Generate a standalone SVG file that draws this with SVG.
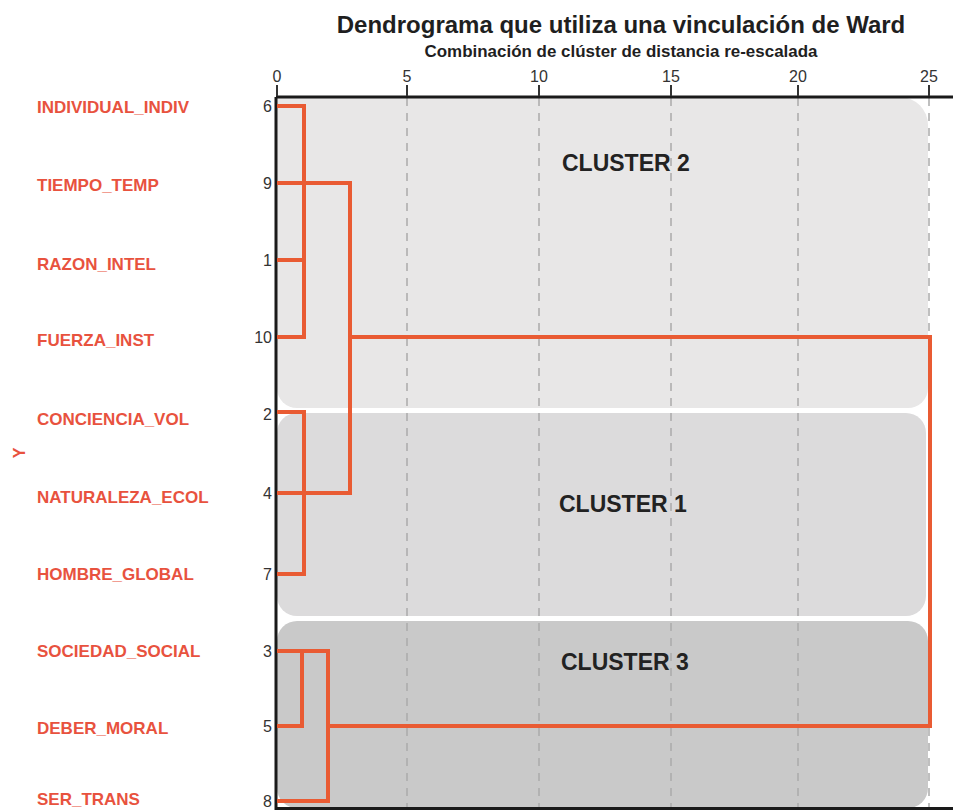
<svg xmlns="http://www.w3.org/2000/svg" width="953" height="810" viewBox="0 0 953 810">
<style>
.title{font-family:"Liberation Sans",Arial,sans-serif;font-weight:bold;fill:#1f1f1f}
.tick{font-family:"Liberation Sans",Arial,sans-serif;font-size:16px;fill:#333;text-anchor:middle}
.num{font-family:"Liberation Sans",Arial,sans-serif;font-size:16px;fill:#333;text-anchor:end}
.name{font-family:"Liberation Sans",Arial,sans-serif;font-size:17px;font-weight:bold;fill:#e8523e}
.clab{font-family:"Liberation Sans",Arial,sans-serif;font-size:23px;font-weight:bold;fill:#222}
.grid{stroke:#ababab;stroke-width:1.5;stroke-dasharray:8 7;fill:none}
.tk{stroke:#333;stroke-width:2}
.link{fill:none;stroke:#e95b33;stroke-width:4;stroke-linejoin:miter}
.axis{stroke:#1a1a1a;stroke-width:3;fill:none}
</style>
<rect width="953" height="810" fill="#fff"/>
<text class="title" x="621" y="33" font-size="24" text-anchor="middle">Dendrograma que utiliza una vinculación de Ward</text>
<text class="title" x="621" y="57" font-size="16.5" text-anchor="middle" textLength="393" lengthAdjust="spacingAndGlyphs">Combinación de clúster de distancia re-escalada</text>
<g id="clusters">
<path id="cluster2" d="M277,97 H900 A28,28 0 0 1 928,125 V388 A20,20 0 0 1 908,408 H297 A20,20 0 0 1 277,388 Z" fill="#e8e7e7"/>
<path id="cluster1" d="M297,413 H906 A20,20 0 0 1 926,433 V596 A20,20 0 0 1 906,616 H297 A20,20 0 0 1 277,596 V433 A20,20 0 0 1 297,413 Z" fill="#dcdbdc"/>
<path id="cluster3" d="M297,621 H908 A20,20 0 0 1 928,641 V788 A20,20 0 0 1 908,808 H297 A20,20 0 0 1 277,788 V641 A20,20 0 0 1 297,621 Z" fill="#c9c9c9"/>
</g>
<g id="grid">
<path class="grid" d="M407,98 V808 M539,98 V808 M671,98 V808 M798,98 V808 M929,98 V808"/>
</g>
<g id="axis">
<path class="axis" d="M276,97 H953 M276,97 V810 M276,808.5 H953"/>
<path class="tk" d="M277,85 V96 M407,85 V96 M539,85 V96 M671,85 V96 M798,85 V96 M929,85 V96"/>
<text class="tick" x="277" y="82">0</text>
<text class="tick" x="407" y="82">5</text>
<text class="tick" x="539" y="82">10</text>
<text class="tick" x="671" y="82">15</text>
<text class="tick" x="798" y="82">20</text>
<text class="tick" x="929" y="82">25</text>
</g>
<text x="25" y="453" transform="rotate(-90 25 453)" font-family="Liberation Sans,Arial,sans-serif" font-size="16" font-weight="bold" fill="#e8523e" text-anchor="middle">Y</text>
<g id="cluster-labels">
<text class="clab" x="562" y="171">CLUSTER 2</text>
<text class="clab" x="559" y="512">CLUSTER 1</text>
<text class="clab" x="561" y="670">CLUSTER 3</text>
</g>
<g id="connectors">
<path class="link" d="M277,106 H304 V337 H277"/>
<path class="link" d="M277,260 H304"/>
<path class="link" d="M277,183 H350 V493 H277"/>
<path class="link" d="M277,412 H304 V574 H277"/>
<path class="link" d="M277,651 H328 V801 H277"/>
<path class="link" d="M277,726 H302 V651"/>
<path class="link" d="M350,337 H930 V726 H328"/>
</g>
<g id="leaf-6"><text class="name" x="37" y="113">INDIVIDUAL_INDIV</text><text class="num" x="272" y="112">6</text></g>
<g id="leaf-9"><text class="name" x="37" y="191">TIEMPO_TEMP</text><text class="num" x="272" y="189">9</text></g>
<g id="leaf-1"><text class="name" x="37" y="270">RAZON_INTEL</text><text class="num" x="272" y="266">1</text></g>
<g id="leaf-10"><text class="name" x="37" y="346">FUERZA_INST</text><text class="num" x="272" y="343">10</text></g>
<g id="leaf-2"><text class="name" x="37" y="425">CONCIENCIA_VOL</text><text class="num" x="272" y="420">2</text></g>
<g id="leaf-4"><text class="name" x="37" y="503">NATURALEZA_ECOL</text><text class="num" x="272" y="499">4</text></g>
<g id="leaf-7"><text class="name" x="37" y="580">HOMBRE_GLOBAL</text><text class="num" x="272" y="580">7</text></g>
<g id="leaf-3"><text class="name" x="37" y="657">SOCIEDAD_SOCIAL</text><text class="num" x="272" y="657">3</text></g>
<g id="leaf-5"><text class="name" x="37" y="734">DEBER_MORAL</text><text class="num" x="272" y="732">5</text></g>
<g id="leaf-8"><text class="name" x="37" y="805">SER_TRANS</text><text class="num" x="272" y="807">8</text></g>
</svg>
